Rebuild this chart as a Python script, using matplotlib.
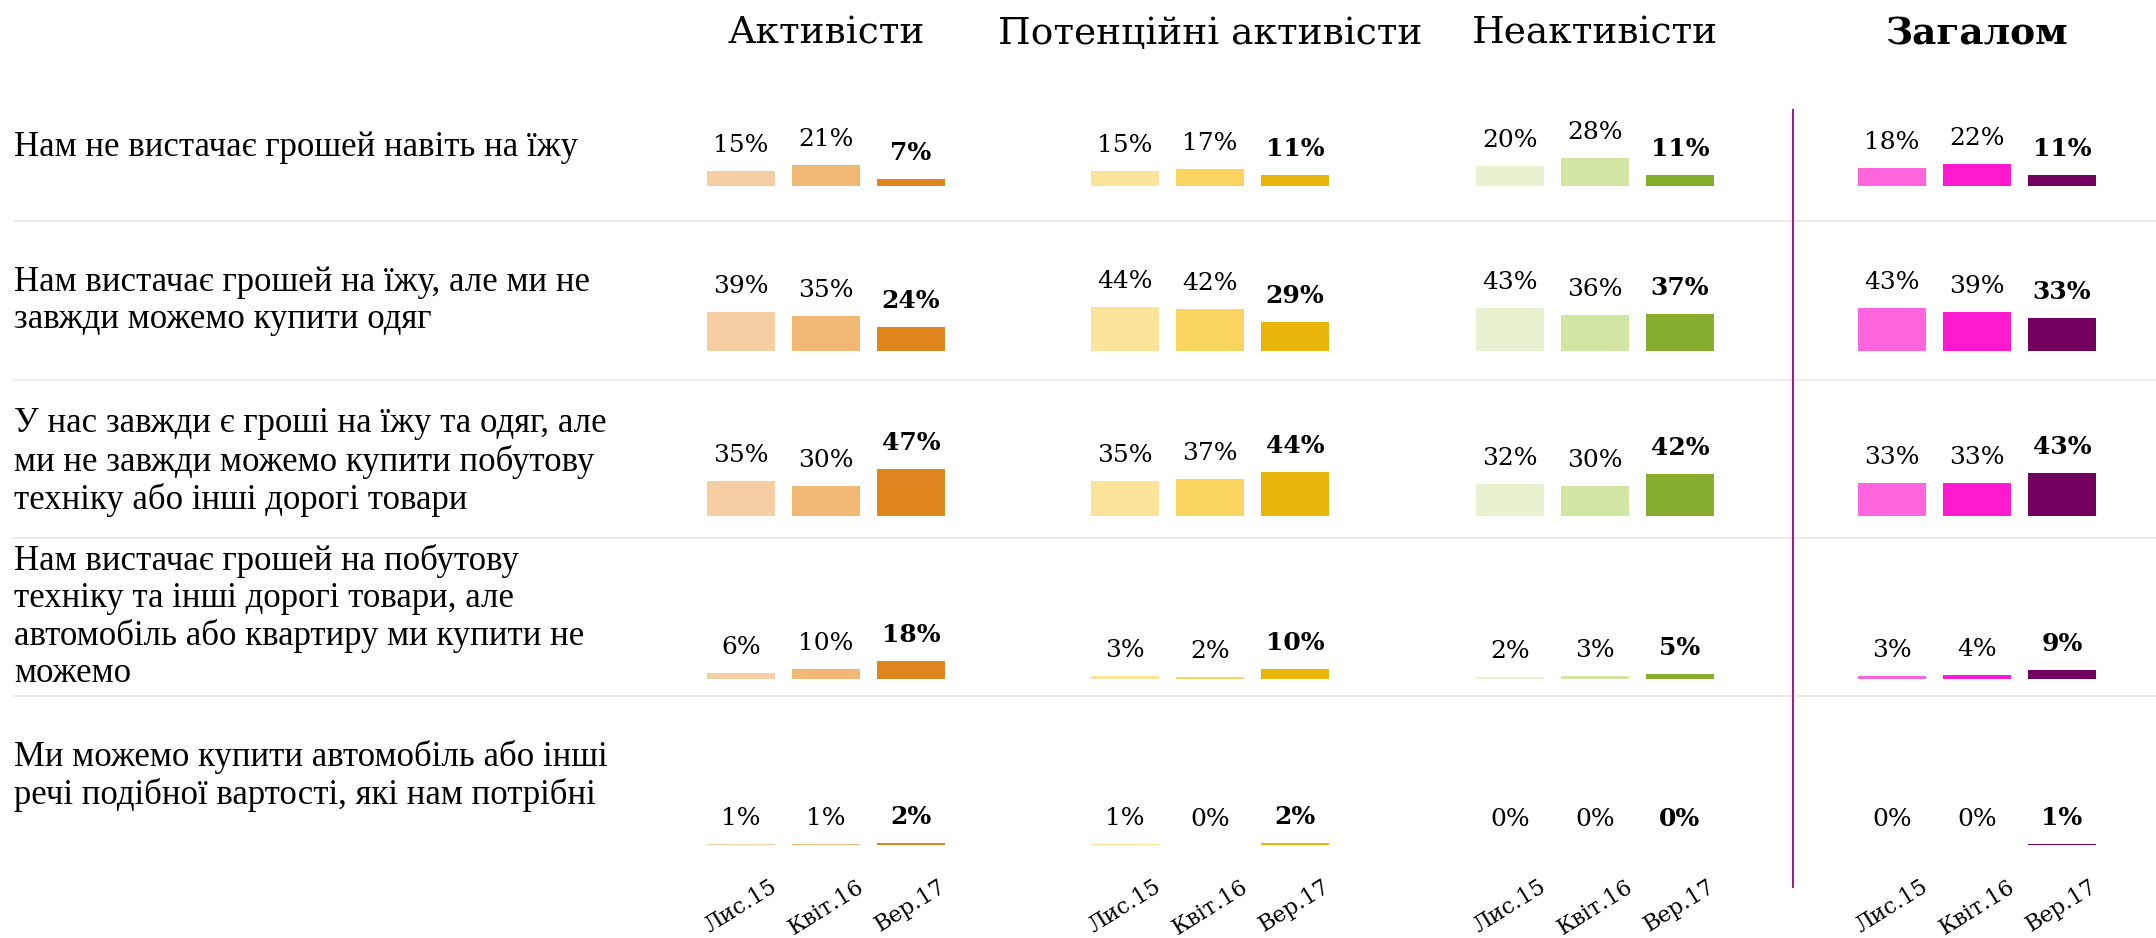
import matplotlib
matplotlib.use("Agg")
import matplotlib.pyplot as plt
from matplotlib.lines import Line2D

# --- data ---
groups = ["Активісти", "Потенційні активісти", "Неактивісти", "Загалом"]
periods = ["Лис.15", "Квіт.16", "Вер.17"]
answers = [
    "Нам не вистачає грошей навіть на їжу",
    "Нам вистачає грошей на їжу, але ми не\nзавжди можемо купити одяг",
    "У нас завжди є гроші на їжу та одяг, але\nми не завжди можемо купити побутову\nтехніку або інші дорогі товари",
    "Нам вистачає грошей на побутову\nтехніку та інші дорогі товари, але\nавтомобіль або квартиру ми купити не\nможемо",
    "Ми можемо купити автомобіль або інші\nречі подібної вартості, які нам потрібні",
]
activists = [[15, 21, 7], [39, 35, 24], [35, 30, 47], [6, 10, 18], [1, 1, 2]]
potential = [[15, 17, 11], [44, 42, 29], [35, 37, 44], [3, 2, 10], [1, 0, 2]]
inactive = [[20, 28, 11], [43, 36, 37], [32, 30, 42], [2, 3, 5], [0, 0, 0]]
overall = [[18, 22, 11], [43, 39, 33], [33, 33, 43], [3, 4, 9], [0, 0, 1]]
values = [activists, potential, inactive, overall]

colors = [
    ["#F5CFA3", "#F0B775", "#E0861E"],
    ["#FBE49A", "#F9D45E", "#E8B50A"],
    ["#E8F2D0", "#D2E5A2", "#88AD2E"],
    ["#FF66DD", "#FF19CF", "#720060"],
]

# --- layout (pixels) ---
W, H = 2156, 938
group_centers = [826, 1210, 1595, 1977]
row_base = [186, 351, 516, 679, 845]
row_label_y = [148, 301, 462, 617, 776]
separators = [221, 380, 538, 696]
ax_w = 255
ax_h = 70

fig = plt.figure(figsize=(W / 100, H / 100), dpi=100)
fig.patch.set_facecolor("white")

for gi, g in enumerate(groups):
    fig.text(group_centers[gi] / W, 1 - 34 / H, g, ha="center", va="center",
             family="DejaVu Serif", fontsize=27,
             fontweight="bold" if gi == 3 else "normal")

for ri in range(len(answers)):
    fig.text(14 / W, 1 - row_label_y[ri] / H, answers[ri], ha="left", va="center",
             family="Liberation Serif", fontsize=25, linespacing=1.17)
    for gi in range(len(groups)):
        left = (group_centers[gi] - ax_w / 2) / W
        bottom = 1 - row_base[ri] / H
        ax = fig.add_axes([left, bottom, ax_w / W, ax_h / H])
        vals = values[gi][ri]
        ax.bar(range(3), vals, width=0.8, color=colors[gi])
        ax.set_xlim(-0.5, 2.5)
        ax.set_ylim(0, ax_h)
        ax.patch.set_visible(False)
        for s in ax.spines.values():
            s.set_visible(False)
        ax.set_yticks([])
        for i, v in enumerate(vals):
            ax.text(i, v + 14, f"{v}%", ha="center", va="bottom",
                    family="DejaVu Serif", fontsize=18,
                    fontweight="bold" if i == 2 else "normal")
        if ri == len(answers) - 1:
            ax.set_xticks(range(3))
            ax.set_xticklabels(periods, rotation=32, ha="center", va="top",
                               family="DejaVu Serif", fontsize=16)
            ax.tick_params(axis="x", length=0, pad=22)
        else:
            ax.set_xticks([])

for y in separators:
    fig.add_artist(Line2D([14 / W, 1], [1 - y / H, 1 - y / H], color="#ECECEC", lw=1.5))

fig.add_artist(Line2D([1793 / W, 1793 / W], [1 - 110 / H, 1 - 887 / H], color="#8E2A84", lw=1.5))

fig.savefig("out.png", dpi=100)
